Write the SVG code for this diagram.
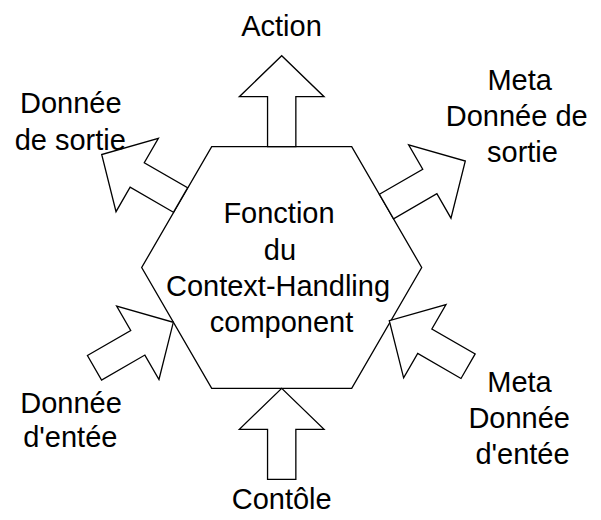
<svg xmlns="http://www.w3.org/2000/svg" width="601" height="520" viewBox="0 0 601 520">
<style>
.shape{fill:#fff;stroke:#000;stroke-width:1.3;stroke-linejoin:miter}
.lbl{font-family:"Liberation Sans",Arial,sans-serif;font-size:29px;fill:#000;text-anchor:middle}
</style>
<defs>
<path id="blockArrow" class="shape" d="M -14.15 0 V -50 H -42.35 L 0 -91 L 42.35 -50 H 14.15 V 0 Z"/>
</defs>
<rect width="601" height="520" fill="#fff"/>
<g id="hexagon">
<polygon class="shape" points="211.7,146.7 351.7,146.7 421.7,267.5 351.7,388.3 211.7,388.3 141.7,267.5"/>
<text class="lbl" x="279" y="223.3">Fonction</text>
<text class="lbl" x="280" y="259.7">du</text>
<text class="lbl" x="278" y="296.2">Context-Handling</text>
<text class="lbl" x="281.5" y="332.2">component</text>
</g>
<g id="connectors">
<use href="#blockArrow" transform="translate(281.7,146.7)"/>
<use href="#blockArrow" transform="translate(281.7,479.3)"/>
<use href="#blockArrow" transform="translate(180.5,200) rotate(-60)"/>
<use href="#blockArrow" transform="translate(386.5,206.5) rotate(60)"/>
<use href="#blockArrow" transform="translate(94.5,367.8) rotate(60)"/>
<use href="#blockArrow" transform="translate(468.1,366.2) rotate(-60)"/>
</g>
<g id="action">
<text class="lbl" x="281.5" y="35.7">Action</text>
</g>
<g id="donnee-sortie">
<text class="lbl" x="70.8" y="113.3">Donnée</text>
<text class="lbl" x="70.3" y="150">de sortie</text>
</g>
<g id="meta-donnee-sortie">
<text class="lbl" x="519.7" y="90">Meta</text>
<text class="lbl" x="516.7" y="126.3">Donnée de</text>
<text class="lbl" x="522.5" y="162">sortie</text>
</g>
<g id="donnee-entree">
<text class="lbl" x="71" y="413.3">Donnée</text>
<text class="lbl" x="70.3" y="447">d'entée</text>
</g>
<g id="meta-donnee-entree">
<text class="lbl" x="519.5" y="391.7">Meta</text>
<text class="lbl" x="519.2" y="428">Donnée</text>
<text class="lbl" x="522.5" y="464.3">d'entée</text>
</g>
<g id="controle">
<text class="lbl" x="281.7" y="509">Contôle</text>
</g>
</svg>
